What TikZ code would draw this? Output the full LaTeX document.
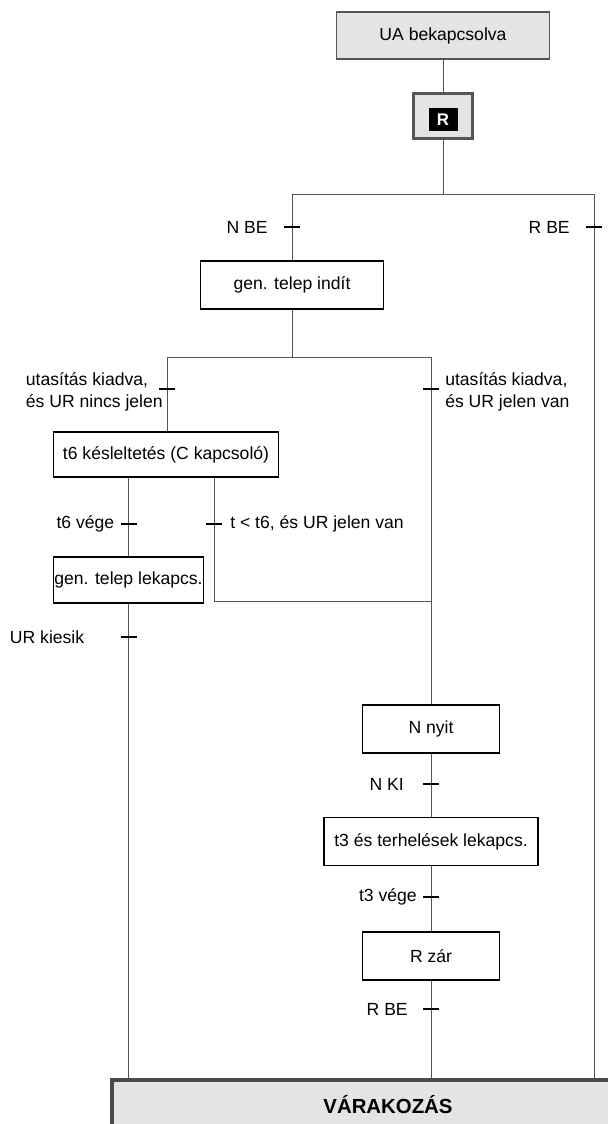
\documentclass[tikz,border=0pt]{standalone}
\usepackage{fontspec}
\setmainfont{Liberation Sans}
\usetikzlibrary{positioning}

\definecolor{linegray}{HTML}{555555}
\definecolor{boxgray}{HTML}{E3E4E6}
\definecolor{framegray}{HTML}{4A4A4D}

\begin{document}
\begin{tikzpicture}[
  x=0.025cm, y=-0.025cm,
  font=\fontsize{12.5pt}{15pt}\selectfont,
  stepbox/.style={draw=black,line width=1.1pt,minimum height=1.2cm,inner sep=0pt},
  initbox/.style={stepbox,draw=linegray,fill=boxgray},
  rbox/.style={draw=linegray,line width=2.2pt,fill=boxgray,
    minimum width=1.475cm,minimum height=1.125cm},
  waitbox/.style={draw=framegray,line width=2.6pt,fill=boxgray,inner sep=0pt,
    minimum width=13.8cm,minimum height=1.25cm,
    font=\fontsize{14.5pt}{17pt}\selectfont\bfseries},
  link/.style={draw=linegray,line width=0.7pt},
  tick/.style={draw=black,line width=1.1pt},
  cond/.style={inner sep=0pt,align=left}
]
  \useasboundingbox (0,0) rectangle (607,1124);

  % Start
  \node[initbox,minimum width=5.325cm,minimum height=1.175cm] (ua) at (443,35.5) {UA bekapcsolva};
  \node[rbox,below=0.8cm of ua] (rr) {};
  \node[fill=black,text=white,font=\fontsize{12pt}{14pt}\selectfont\bfseries,
    minimum width=0.725cm,minimum height=0.575cm,inner sep=0pt] (rmark)
    at ([yshift=-2.5pt]rr.center) {R};

  % Steps
  \node[stepbox,minimum width=4.575cm] (gti) at (292,285) {gen. telep indít};
  \node[stepbox,minimum width=5.625cm,minimum height=1.125cm] (t6) at (166,454.5) {t6 késleltetés (C kapcsoló)};
  \node[stepbox,minimum width=3.75cm,minimum height=1.15cm] (gtl) at (128.5,580) {gen. telep lekapcs.};
  \node[stepbox,minimum width=3.425cm] (nny) at (431,729) {N nyit};
  \node[stepbox,minimum width=5.35cm,below=1.575cm of nny] (t3) {t3 és terhelések lekapcs.};
  \node[stepbox,minimum width=3.425cm,below=1.625cm of t3] (rz) {R zár};
  \node[waitbox] (wait) at (388,1105) {VÁRAKOZÁS};

  % Junctions and transitions
  \coordinate (j1) at (443,194);
  \coordinate (jl) at (292,194);
  \coordinate (jr) at (594,194);
  \coordinate (nbe) at (292,227);
  \coordinate (rbe) at (594,227);
  \coordinate (j2) at (292,357);
  \coordinate (j2l) at (167,357);
  \coordinate (j2r) at (431,357);
  \coordinate (utl) at (167,389);
  \coordinate (utr) at (431,389);
  \coordinate (t6v) at (128.5,524);
  \coordinate (tlt) at (214,524);
  \coordinate (m1) at (214,601);
  \coordinate (m2) at (431,601);
  \coordinate (urk) at (128.5,637);
  \coordinate (nki) at (431,784);
  \coordinate (t3v) at (431,897);
  \coordinate (rbe2) at (431,1009);

  % Links
  \draw[link] (ua) -- (rr);
  \draw[link] (rr) -- (j1);
  \draw[link] (jl) -- (jr);
  \draw[link] (jl) -- (gti);
  \draw[link] (jr) -- (jr |- wait.north);
  \draw[link] (gti) -- (j2);
  \draw[link] (j2l) -- (j2r);
  \draw[link] (j2l) -- (j2l |- t6.north);
  \draw[link] (t6.south -| gtl) -- (gtl);
  \draw[link] (t6.south -| m1) -- (m1) -- (m2);
  \draw[link] (gtl) -- (gtl |- wait.north);
  \draw[link] (j2r) -- (nny);
  \draw[link] (nny) -- (t3);
  \draw[link] (t3) -- (rz);
  \draw[link] (rz) -- (rz |- wait.north);

  % Ticks
  \foreach \t in {nbe,rbe,utl,utr,t6v,tlt,urk,nki,t3v,rbe2}
    \draw[tick] (\t) ++(-8,0) -- ++(16,0);

  % Conditions
  \node[cond,left=0.6cm of nbe] {N BE};
  \node[cond,left=0.6cm of rbe] {R BE};
  \node[cond,left=0.1cm of utl,yshift=-2pt] {utasítás kiadva,\\és UR nincs jelen};
  \node[cond,right=0.35cm of utr,yshift=-2pt] {utasítás kiadva,\\és UR jelen van};
  \node[cond,left=0.35cm of t6v] {t6 vége};
  \node[cond,right=0.4cm of tlt] {t < t6, és UR jelen van};
  \node[cond,left=1.1cm of urk] {UR kiesik};
  \node[cond,left=0.675cm of nki] {N KI};
  \node[cond,left=0.35cm of t3v] {t3 vége};
  \node[cond,left=0.575cm of rbe2] {R BE};
\end{tikzpicture}
\end{document}
